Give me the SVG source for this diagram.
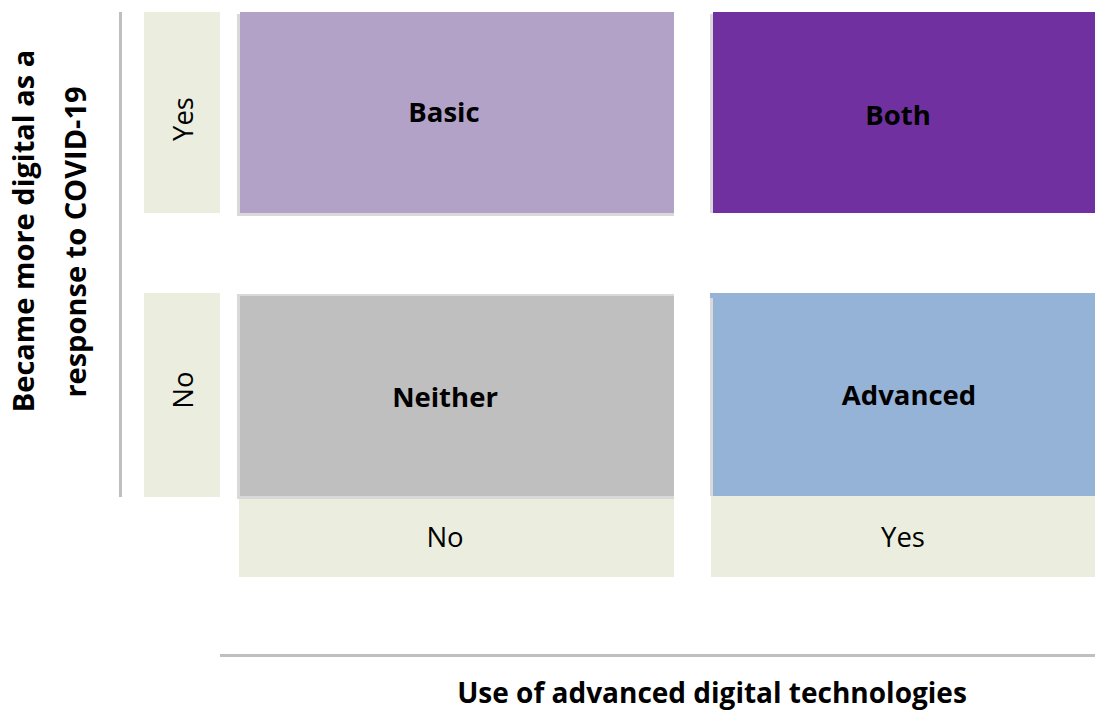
<svg xmlns="http://www.w3.org/2000/svg" width="1095" height="710" viewBox="0 0 1095 710">
  <style>
    .lbl { fill: #ebeedf; }
    .shade { fill: #d9d9d9; }
    .axis { fill: #bfbfbf; }
    text { font-family: "Open Sans", "Noto Sans", "Liberation Sans", sans-serif; fill: #000; }
    .cell { font-size: 27.5px; font-weight: bold; text-anchor: middle; }
    .tick { font-size: 27.5px; text-anchor: middle; }
    .title { font-size: 28px; font-weight: bold; text-anchor: middle; }
    .ytitle { font-size: 29px; font-weight: bold; text-anchor: middle; }
  </style>

  <!-- axis rules -->
  <g id="axes">
    <rect class="axis" x="119" y="12" width="3" height="485"/>
    <rect class="axis" x="220" y="654" width="875" height="3"/>
  </g>

  <!-- axis titles -->
  <g id="y-title">
    <text class="ytitle" transform="translate(34,231) rotate(-90)">Became more digital as a</text>
    <text class="ytitle" transform="translate(86,242) rotate(-90)">response to COVID-19</text>
  </g>
  <g id="x-title">
    <text class="title" x="712" y="703">Use of advanced digital technologies</text>
  </g>

  <!-- row labels -->
  <g id="row-yes">
    <rect class="lbl" x="144" y="12" width="76" height="201"/>
    <text class="tick" transform="translate(193,119) rotate(-90)">Yes</text>
  </g>
  <g id="row-no">
    <rect class="lbl" x="144" y="293" width="76" height="204"/>
    <text class="tick" transform="translate(193,390) rotate(-90)">No</text>
  </g>

  <!-- column labels -->
  <g id="col-no">
    <rect class="lbl" x="239" y="499" width="435" height="78"/>
    <text class="tick" x="445" y="547">No</text>
  </g>
  <g id="col-yes">
    <rect class="lbl" x="711" y="496" width="384" height="81"/>
    <text class="tick" x="903" y="547">Yes</text>
  </g>

  <!-- quadrants -->
  <g id="basic">
    <rect class="shade" x="237" y="14" width="437" height="202"/>
    <rect x="240" y="12" width="434" height="201" fill="#b3a2c7"/>
    <text class="cell" x="444" y="122">Basic</text>
  </g>
  <g id="both">
    <rect class="shade" x="710" y="14" width="3" height="199"/>
    <rect x="713" y="12" width="382" height="201" fill="#7030a0"/>
    <text class="cell" x="898" y="125">Both</text>
  </g>
  <g id="neither">
    <rect class="shade" x="237" y="294" width="437" height="205"/>
    <rect x="240" y="296" width="434" height="200" fill="#bfbfbf"/>
    <text class="cell" x="445" y="407">Neither</text>
  </g>
  <g id="advanced">
    <rect class="shade" x="710" y="298" width="3" height="198"/>
    <rect x="710" y="293" width="385" height="5" fill="#95b3d7"/>
    <rect x="713" y="293" width="382" height="203" fill="#95b3d7"/>
    <text class="cell" x="909" y="405">Advanced</text>
  </g>
</svg>
